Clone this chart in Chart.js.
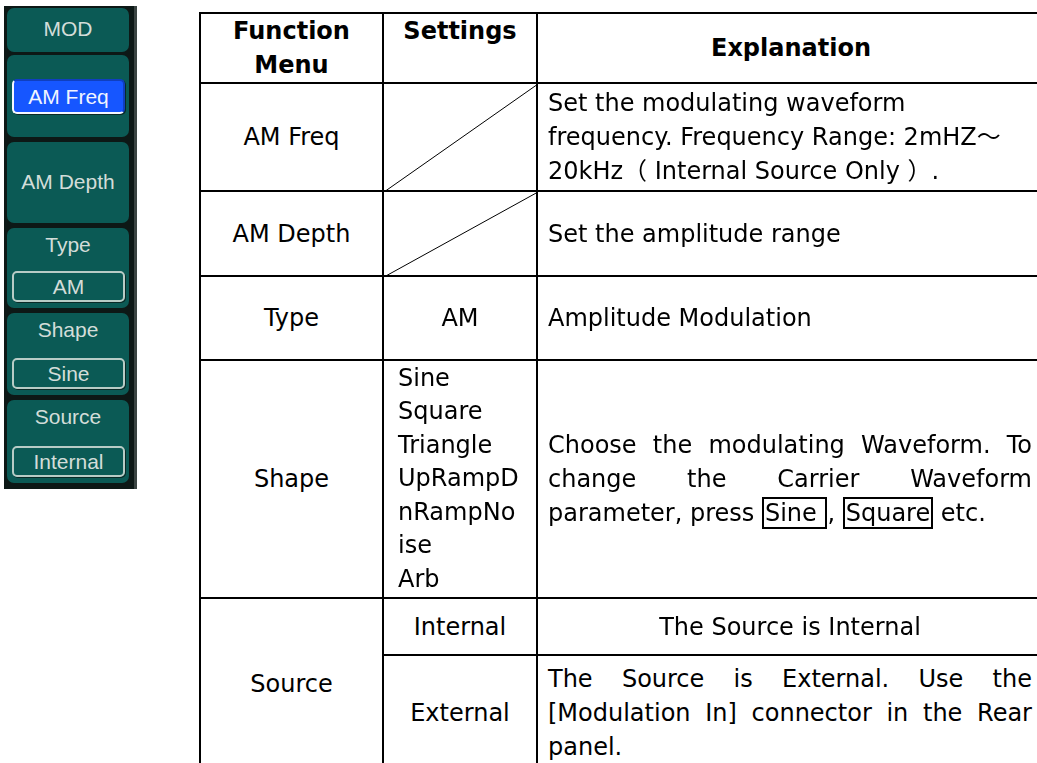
<!DOCTYPE html>
<html>
<head>
<meta charset="utf-8">
<script src="https://cdn.jsdelivr.net/npm/chart.js@4.4.1/dist/chart.umd.min.js"></script>
<style>
    body {
        margin: 0;
        width: 1037px;
        height: 763px;
        overflow: hidden;
        background: #ffffff;
        position: relative;
        font-family: "DejaVu Sans", Verdana, "Noto Sans CJK SC", sans-serif;
    }

    /* ---- softkey panel ---- */
    .panel {
        position: absolute;
        left: 4px;
        top: 6px;
        width: 130px;
        height: 483px;
        background: #0d1816;
        border-right: 3px solid #3a4442;
    }
    .softkey {
        position: absolute;
        left: 3px;
        width: 122px;
        background: #0b5a55;
        border-radius: 7px;
        color: #d3ddd9;
        font-family: "Liberation Sans", Arial, sans-serif;
        font-size: 21px;
        text-align: center;
    }
    .softkey .label {
        position: absolute;
        left: 0;
        right: 0;
    }
    .softkey .value {
        position: absolute;
        left: 5px;
        right: 4px;
        border: 2px solid #b8ccc6;
        border-radius: 5px;
        box-shadow: 1px 1px 0 #0a2a27;
        line-height: 27px;
    }
    .softkey .value.active {
        background: #1656ff;
        color: #f0f4ff;
        border-color: #0f3fbf #0f3fbf #f4f7ff #f4f7ff;
        line-height: 31px;
    }

    /* ---- function table ---- */
    table {
        position: absolute;
        left: 199px;
        top: 12px;
        width: 845px;
        border-collapse: collapse;
        table-layout: fixed;
        font-size: 24px;
        line-height: 34px;
        color: #000;
    }
    td, th {
        border: 2px solid #000;
        padding: 0;
        position: relative;
    }
    th {
        font-weight: bold;
        text-align: center;
    }
    td.menu, td.setting {
        text-align: center;
        vertical-align: middle;
    }
    td.setting.list {
        text-align: left;
        padding-left: 14px;
        line-height: 33.5px;
    }
    td.explain {
        padding: 0 12px 0 10px;
        vertical-align: middle;
    }
    td.explain.center {
        text-align: center;
    }
    .just {
        text-align: justify;
        text-align-last: justify;
        white-space: nowrap;
    }
    .keybox {
        border: 2px solid #000;
        padding: 0 1px;
    }
    canvas.diag {
        position: absolute;
        left: 0;
        top: 0;
    }
</style>
</head>
<body>

<div class="panel" id="panel"></div>

<table id="table">
    <colgroup>
        <col style="width:183px">
        <col style="width:154px">
        <col style="width:508px">
    </colgroup>
    <tbody></tbody>
</table>

<script>
// softkey panel
const panelLabels = ["MOD", "", "AM Depth", "Type", "Shape", "Source"];
const panelValues = ["", "AM Freq", "", "AM", "Sine", "Internal"];
const panelTops = [2, 49, 136, 222, 307, 394];
const panelHeights = [44, 82, 81, 80, 82, 83];

// table contents
const headerText = [["Function", "Menu"], ["Settings"], ["Explanation"]];
const menuNames = ["AM Freq", "AM Depth", "Type", "Shape", "Source"];
const settingValues = [null, null, ["AM"], ["Sine", "Square", "Triangle", "UpRampD", "nRampNo", "ise", "Arb"], ["Internal"], ["External"]];
const explanations = [
    ["Set the modulating waveform", "frequency. Frequency Range: 2mHZ～", "20kHz（ Internal Source Only ）."],
    ["Set the amplitude range"],
    ["Amplitude Modulation"],
    ["Choose the modulating Waveform. To", "change the Carrier Waveform", "parameter, press [Sine ], [Square] etc."],
    ["The Source is Internal"],
    ["The Source is External. Use the", "[Modulation In] connector in the Rear", "panel."]
];
const rowHeights = [68, 108, 85, 84, 238, 57, 115];

// the "no setting" cells have a single diagonal stroke
const diagonalX = [0, 1];
const diagonalY = [0, 1];


function buildPanel() {
    const panel = document.getElementById("panel");

    panelLabels.forEach((label, i) => {
        const key = document.createElement("div");
        key.className = "softkey";
        key.style.top = panelTops[i] + "px";
        key.style.height = panelHeights[i] + "px";

        const value = panelValues[i];
        if (label) {
            const l = document.createElement("div");
            l.className = "label";
            l.textContent = label;
            if (value) {
                l.style.top = "5px";
            } else {
                l.style.top = (panelHeights[i] / 2 - 13) + "px";
            }
            key.appendChild(l);
        }
        if (value) {
            const v = document.createElement("div");
            v.className = "value";
            v.textContent = value;
            if (!label) {
                v.classList.add("active");
                v.style.top = "24px";
            } else {
                v.style.bottom = "6px";
            }
            key.appendChild(v);
        }
        panel.appendChild(key);
    });
}


function linesHtml(lines, justify) {
    return lines.map((line, i) => {
        let html = line
            .replace("[Sine ]", '<span class="keybox">Sine </span>')
            .replace("[Square]", '<span class="keybox">Square</span>');
        if (justify && i < lines.length - 1) {
            return '<div class="just">' + html + '</div>';
        }
        return '<div>' + html + '</div>';
    }).join("");
}


function buildTable() {
    const tbody = document.querySelector("#table tbody");

    const head = document.createElement("tr");
    head.style.height = rowHeights[0] + "px";
    headerText.forEach((lines, i) => {
        const th = document.createElement("th");
        th.innerHTML = lines.join("<br>");
        th.style.verticalAlign = (i === 1) ? "top" : "middle";
        head.appendChild(th);
    });
    tbody.appendChild(head);

    const diagonalCells = [];

    for (let r = 0; r < explanations.length; r++) {
        const tr = document.createElement("tr");
        tr.style.height = rowHeights[r + 1] + "px";

        // Source spans the Internal / External rows
        if (r <= 4) {
            const tdMenu = document.createElement("td");
            tdMenu.className = "menu";
            tdMenu.textContent = menuNames[r];
            if (r === 4) tdMenu.rowSpan = 2;
            tr.appendChild(tdMenu);
        }

        const tdSet = document.createElement("td");
        tdSet.className = "setting";
        const setting = settingValues[r];
        if (setting === null) {
            diagonalCells.push(tdSet);
        } else {
            if (setting.length > 1) tdSet.classList.add("list");
            tdSet.innerHTML = setting.join("<br>");
        }
        tr.appendChild(tdSet);

        const tdExp = document.createElement("td");
        tdExp.className = "explain";
        if (r === 4) tdExp.classList.add("center");
        const justify = (r === 3 || r === 5);
        tdExp.innerHTML = linesHtml(explanations[r], justify);
        tr.appendChild(tdExp);

        tbody.appendChild(tr);
    }

    diagonalCells.forEach(td => drawDiagonal(td));
}


function drawDiagonal(td) {
    const w = td.offsetWidth;
    const h = td.offsetHeight;

    const canvas = document.createElement("canvas");
    canvas.className = "diag";
    canvas.width = w;
    canvas.height = h;
    canvas.style.width = w + "px";
    canvas.style.height = h + "px";
    td.appendChild(canvas);

    new Chart(canvas.getContext("2d"), {
        type: 'line',
        data: {
            labels: diagonalX,
            datasets: [{
                data: diagonalX.map((x, i) => ({ x: x, y: diagonalY[i] })),
                borderColor: '#000000',
                borderWidth: 1,
                pointRadius: 0,
                clip: false
            }]
        },
        options: {
            responsive: false,
            animation: false,
            layout: { padding: 0 },
            plugins: {
                legend: { display: false },
                tooltip: { enabled: false }
            },
            scales: {
                x: { type: 'linear', min: 0, max: 1, display: false },
                y: { min: 0, max: 1, display: false }
            }
        }
    });
}

buildPanel();
buildTable();
</script>
</body>
</html>
